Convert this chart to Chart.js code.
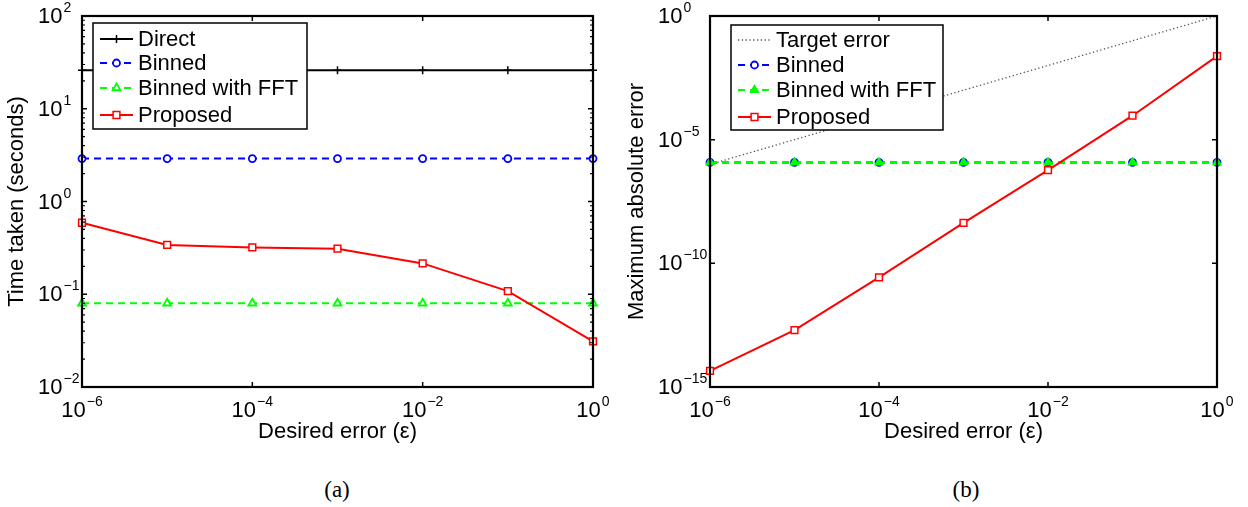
<!DOCTYPE html>
<html>
<head>
<meta charset="utf-8">
<script src="https://cdn.jsdelivr.net/npm/chart.js@4.4.0/dist/chart.umd.min.js"></script>
<style>
  body { margin: 0; background: #fff; }
  #page { position: relative; width: 1248px; height: 507px; background: #fff; }
  .panel { position: absolute; top: 0; height: 450px; }
  .caption { position: absolute; top: 476px; width: 80px; text-align: center;
             font-family: "Liberation Serif", "DejaVu Serif", serif; font-size: 23px; line-height: 28px; color: #000; }
</style>
</head>
<body>
<div id="page">
  <div class="panel" style="left:0;width:620px;"><canvas id="tiempo"></canvas></div>
  <div class="panel" style="left:620px;width:628px;"><canvas id="errores"></canvas></div>
  <div class="caption" style="left:297px;">(a)</div>
  <div class="caption" style="left:926px;">(b)</div>
</div>
<script>
// DATOS
const desiredError = [1e-6, 1e-5, 1e-4, 1e-3, 1e-2, 1e-1, 1];

const timeDirect   = [26, 26, 26, 26, 26, 26, 26];
const timeBinned   = [2.9, 2.9, 2.9, 2.9, 2.9, 2.9, 2.9];
const timeFFT      = [0.08, 0.08, 0.08, 0.08, 0.08, 0.08, 0.08];
const timeProposed = [0.59, 0.34, 0.32, 0.31, 0.215, 0.108, 0.031];

const errTarget   = [1e-6, 1e-5, 1e-4, 1e-3, 1e-2, 1e-1, 1];
const errBinned   = [1.2e-6, 1.2e-6, 1.2e-6, 1.2e-6, 1.2e-6, 1.2e-6, 1.2e-6];
const errFFT      = [1.2e-6, 1.2e-6, 1.2e-6, 1.2e-6, 1.2e-6, 1.2e-6, 1.2e-6];
const errProposed = [4.5e-15, 2e-13, 2.7e-11, 4.3e-9, 5.9e-7, 9.3e-5, 0.024];

const xTicks  = [1e-6, 1e-4, 1e-2, 1];
const yTicksA = [1e-2, 1e-1, 1, 10, 100];
const yTicksB = [1e-15, 1e-10, 1e-5, 1];

const FONT = '"Liberation Sans", Arial, Helvetica, sans-serif';

function puntos(ys) {
    return desiredError.map((x, i) => ({ x: x, y: ys[i] }));
}

// potencia de diez con exponente en superindice
function dibujarPotencia(ctx, valor, x, base, centrado) {
    const exp = Math.round(Math.log10(valor));
    const expTxt = exp < 0 ? '\u2212' + Math.abs(exp) : String(exp);
    ctx.font = '22px ' + FONT;
    const w1 = ctx.measureText('10').width;
    ctx.font = '14px ' + FONT;
    const w2 = ctx.measureText(expTxt).width;
    let x0 = centrado ? x - (w1 + w2 + 1) / 2 : x;
    ctx.textAlign = 'left';
    ctx.textBaseline = 'alphabetic';
    ctx.font = '22px ' + FONT;
    ctx.fillText('10', x0, base);
    ctx.font = '14px ' + FONT;
    ctx.fillText(expTxt, x0 + w1 + 1, base - 11);
}

// marco, ticks hacia dentro, etiquetas y leyenda estilo MATLAB
const marcoMatlab = {
    id: 'marcoMatlab',
    afterDatasetsDraw(chart, args, opts) {
        const ctx = chart.ctx;
        const a = chart.chartArea;
        const xs = chart.scales.x;
        const ys = chart.scales.y;
        ctx.save();
        ctx.fillStyle = '#000';
        ctx.strokeStyle = '#000';
        ctx.setLineDash([]);

        // ticks eje x
        ctx.lineWidth = 1.5;
        opts.xTicks.forEach(v => {
            const px = xs.getPixelForValue(v);
            ctx.beginPath();
            ctx.moveTo(px, a.bottom); ctx.lineTo(px, a.bottom - 5);
            ctx.moveTo(px, a.top); ctx.lineTo(px, a.top + 5);
            ctx.stroke();
            dibujarPotencia(ctx, v, px, a.bottom + 30, true);
        });

        // ticks eje y
        opts.yTicks.forEach(v => {
            const py = ys.getPixelForValue(v);
            ctx.beginPath();
            ctx.moveTo(a.left, py); ctx.lineTo(a.left + 5, py);
            ctx.moveTo(a.right, py); ctx.lineTo(a.right - 5, py);
            ctx.stroke();
            dibujarPotencia(ctx, v, opts.labelX, py + 7, false);
        });

        // ticks menores
        if (opts.minor) {
            ctx.lineWidth = 1.2;
            for (let i = 0; i < opts.yTicks.length - 1; i++) {
                for (let m = 2; m <= 9; m++) {
                    const py = ys.getPixelForValue(opts.yTicks[i] * m);
                    ctx.beginPath();
                    ctx.moveTo(a.left, py); ctx.lineTo(a.left + 3, py);
                    ctx.moveTo(a.right, py); ctx.lineTo(a.right - 3, py);
                    ctx.stroke();
                }
            }
        }

        // marco
        ctx.lineWidth = 2.2;
        ctx.strokeRect(a.left, a.top, a.right - a.left, a.bottom - a.top);

        // leyenda
        const lg = opts.legend;
        const lx = a.left + lg.x;
        const ly = a.top + lg.y;
        ctx.fillStyle = '#fff';
        ctx.fillRect(lx, ly, lg.w, lg.h);
        ctx.lineWidth = 1.5;
        ctx.strokeStyle = '#000';
        ctx.strokeRect(lx, ly, lg.w, lg.h);

        chart.data.datasets.forEach((ds, i) => {
            const cy = ly + lg.rows[i];
            const sx = lx + 7;
            ctx.strokeStyle = ds.borderColor;
            ctx.lineWidth = ds.borderWidth;
            ctx.setLineDash(ds.borderDash || []);
            ctx.beginPath();
            ctx.moveTo(sx, cy); ctx.lineTo(sx + 33, cy);
            ctx.stroke();
            ctx.setLineDash([]);
            if (ds.pointRadius > 0) {
                ctx.strokeStyle = ds.pointBorderColor || ds.borderColor;
                ctx.fillStyle = ds.pointBackgroundColor || ds.borderColor;
                ctx.lineWidth = ds.pointBorderWidth || 1.5;
                Chart.helpers.drawPoint(ctx, {
                    pointStyle: ds.pointStyle, radius: ds.pointRadius,
                    rotation: 0, borderWidth: ctx.lineWidth
                }, sx + 16.5, cy);
            }
            ctx.fillStyle = '#000';
            ctx.font = '22px ' + FONT;
            ctx.textAlign = 'left';
            ctx.textBaseline = 'middle';
            ctx.fillText(ds.label, sx + 38, cy + 1);
        });
        ctx.restore();
    }
};

function ejes(yMin, yMax, yTitulo, anchoY) {
    return {
        x: {
            type: 'logarithmic', min: 1e-6, max: 1,
            grid: { display: false }, border: { display: false },
            ticks: { display: false },
            afterFit: s => { s.height = 63; },
            title: { display: true, text: 'Desired error (\u03b5)', color: '#000',
                     font: { family: FONT, size: 22 }, padding: { top: 0, bottom: 5 } }
        },
        y: {
            type: 'logarithmic', min: yMin, max: yMax,
            grid: { display: false }, border: { display: false },
            ticks: { display: false },
            afterFit: s => { s.width = anchoY; },
            title: { display: true, text: yTitulo, color: '#000',
                     font: { family: FONT, size: 22 }, padding: { top: 4, bottom: 0 } }
        }
    };
}

// GRAFICA (a) TIEMPO
new Chart(document.getElementById('tiempo'), {
    type: 'line',
    data: {
        datasets: [
            { label: 'Direct', data: puntos(timeDirect), borderColor: '#000', borderWidth: 2,
              pointStyle: 'cross', pointRadius: 4, pointBorderWidth: 1.5, order: 4, clip: false },
            { label: 'Binned', data: puntos(timeBinned), borderColor: '#0000ff', borderWidth: 2,
              borderDash: [7, 5], pointStyle: 'circle', pointRadius: 3.5,
              pointBackgroundColor: '#fff', pointBorderWidth: 1.8, order: 3, clip: false },
            { label: 'Binned with FFT', data: puntos(timeFFT), borderColor: '#00ff00', borderWidth: 2,
              borderDash: [7, 5], pointStyle: 'triangle', pointRadius: 4.5,
              pointBackgroundColor: '#fff', pointBorderWidth: 1.8, order: 2, clip: false },
            { label: 'Proposed', data: puntos(timeProposed), borderColor: '#ff0000', borderWidth: 2,
              pointStyle: 'rect', pointRadius: 4.8,
              pointBackgroundColor: '#fff', pointBorderWidth: 1.5, order: 1, clip: false }
        ]
    },
    options: {
        responsive: true, maintainAspectRatio: false, animation: false, events: [],
        layout: { padding: { left: 0, top: 16, right: 27, bottom: 0 } },
        elements: { line: { tension: 0 } },
        scales: ejes(0.01, 100, 'Time taken (seconds)', 82),
        plugins: {
            legend: { display: false }, tooltip: { enabled: false },
            marcoMatlab: {
                xTicks: xTicks, yTicks: yTicksA, labelX: 38, minor: true,
                legend: { x: 11, y: 7, w: 214, h: 106, rows: [16, 40, 65, 92] }
            }
        }
    },
    plugins: [marcoMatlab]
});

// GRAFICA (b) ERROR
new Chart(document.getElementById('errores'), {
    type: 'line',
    data: {
        datasets: [
            { label: 'Target error', data: puntos(errTarget), borderColor: '#555', borderWidth: 1.3,
              borderDash: [1.3, 2.5], pointRadius: 0, order: 4 },
            { label: 'Binned', data: puntos(errBinned), borderColor: '#0000ff', borderWidth: 2,
              borderDash: [7, 5], pointStyle: 'circle', pointRadius: 3.5,
              pointBackgroundColor: '#fff', pointBorderWidth: 1.8, order: 3, clip: false },
            { label: 'Binned with FFT', data: puntos(errFFT), borderColor: '#00ff00', borderWidth: 2,
              borderDash: [7, 5], pointStyle: 'triangle', pointRadius: 4.5,
              pointBackgroundColor: '#00ff00', pointBorderWidth: 1.5, order: 2, clip: false },
            { label: 'Proposed', data: puntos(errProposed), borderColor: '#ff0000', borderWidth: 2,
              pointStyle: 'rect', pointRadius: 4.8,
              pointBackgroundColor: '#fff', pointBorderWidth: 1.5, order: 1, clip: false }
        ]
    },
    options: {
        responsive: true, maintainAspectRatio: false, animation: false, events: [],
        layout: { padding: { left: 0, top: 16, right: 31, bottom: 0 } },
        elements: { line: { tension: 0 } },
        scales: ejes(1e-15, 1, 'Maximum absolute error', 90),
        plugins: {
            legend: { display: false }, tooltip: { enabled: false },
            marcoMatlab: {
                xTicks: xTicks, yTicks: yTicksB, labelX: 38, minor: false,
                legend: { x: 21, y: 9, w: 212, h: 105, rows: [15, 40, 65, 92] }
            }
        }
    },
    plugins: [marcoMatlab]
});
</script>
</body>
</html>
